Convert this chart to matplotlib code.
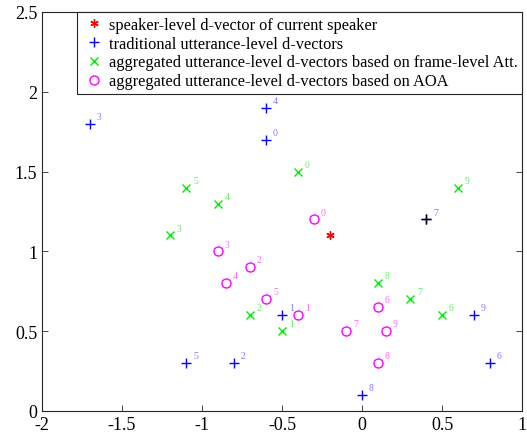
import matplotlib
matplotlib.use("Agg")
import matplotlib.pyplot as plt

# speaker-level d-vector
spk_x = [-0.2]
spk_y = [1.1]

# traditional utterance-level d-vectors (labels 0..9)
trad_x = [-0.6, -0.5, -0.8, -1.7, -0.6, -1.1, 0.8, 0.4, 0.0, 0.7]
trad_y = [1.7, 0.6, 0.3, 1.8, 1.9, 0.3, 0.3, 1.2, 0.1, 0.6]

# aggregated (frame-level Att.)
att_x = [-0.4, -0.5, -0.7, -1.2, -0.9, -1.1, 0.5, 0.3, 0.1, 0.6]
att_y = [1.5, 0.5, 0.6, 1.1, 1.3, 1.4, 0.6, 0.7, 0.8, 1.4]

# aggregated (AOA)
aoa_x = [-0.3, -0.4, -0.7, -0.9, -0.85, -0.6, 0.1, -0.1, 0.1, 0.15]
aoa_y = [1.2, 0.6, 0.9, 1.0, 0.8, 0.7, 0.65, 0.5, 0.3, 0.5]

labels = [str(i) for i in range(10)]

legend_labels = [
    "speaker-level d-vector of current speaker",
    "traditional utterance-level d-vectors",
    "aggregated utterance-level d-vectors based on frame-level Att.",
    "aggregated utterance-level d-vectors based on AOA",
]

plt.rcParams['font.family'] = ['Liberation Serif', 'DejaVu Serif']

fig = plt.figure(figsize=(5.27, 4.39), dpi=100)
ax = fig.add_axes([42/527, 1-412/439, (522-42)/527, (412-13)/439])

h1, = ax.plot(spk_x, spk_y, linestyle='none', marker=(6, 2, 0), color='#ff0000',
              markersize=6, markeredgewidth=1.0)
h2, = ax.plot(trad_x, trad_y, linestyle='none', marker='+', color='#0000ff',
              markersize=7, markeredgewidth=1.0)
h3, = ax.plot(att_x, att_y, linestyle='none', marker='x', color='#00ee00',
              markersize=5.5, markeredgewidth=1.0)
h4, = ax.plot(aoa_x, aoa_y, linestyle='none', marker='o', markerfacecolor='none',
              markeredgecolor='#ff00ff', markersize=6.5, markeredgewidth=1.0)
# point 7 of traditional appears drawn darker
ax.plot([trad_x[7]], [trad_y[7]], linestyle='none', marker='+', color='#000000',
        markersize=7, markeredgewidth=1.0)

def annotate(xs, ys, color):
    for x, y, t in zip(xs, ys, labels):
        ax.annotate(t, (x, y), xytext=(5, 3.5), textcoords='offset points',
                    fontsize=7, color=color)

annotate(trad_x, trad_y, '#7f7fff')
annotate(att_x, att_y, '#66ee66')
annotate(aoa_x, aoa_y, '#ff66ff')

ax.set_xlim(-2, 1)
ax.set_ylim(0, 2.5)
ax.set_xticks([-2, -1.5, -1, -0.5, 0, 0.5, 1])
ax.set_xticklabels(['-2', '-1.5', '-1', '-0.5', '0', '0.5', '1'])
ax.set_yticks([0, 0.5, 1, 1.5, 2, 2.5])
ax.set_yticklabels(['0', '0.5', '1', '1.5', '2', '2.5'])
ax.tick_params(direction='in', length=4, width=0.6, labelsize=13,
               top=True, right=True, colors='#262626')
for tl in ax.get_xticklabels() + ax.get_yticklabels():
    tl.set_color('black')
for s in ax.spines.values():
    s.set_linewidth(0.8)
    s.set_color('#262626')

leg = ax.legend([h1, h2, h3, h4], legend_labels, loc='upper right',
                bbox_to_anchor=(1.0, 1.0), fontsize=11.8, frameon=True,
                fancybox=False, edgecolor='#262626', framealpha=1,
                borderaxespad=0, handlelength=1.5, handletextpad=0.15,
                labelspacing=0.18, borderpad=0.28)
leg.get_frame().set_linewidth(0.8)

fig.savefig('out.png', dpi=100)
